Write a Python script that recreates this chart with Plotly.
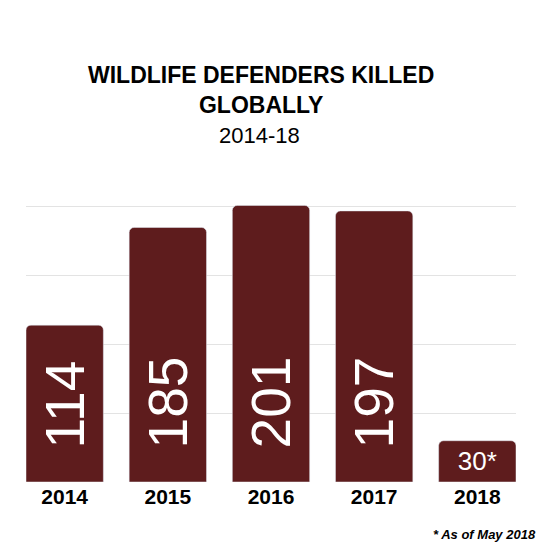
import plotly.graph_objects as go

years = ["2014", "2015", "2016", "2017", "2018"]
killed = [114, 185, 201, 197, 30]
labels = ["\u00a0\u00a0114", "\u00a0\u00a0185", "\u00a0\u00a0201", "\u00a0\u00a0197", "30*"]

bar_color = "#5e1c1d"

fig = go.Figure()
fig.add_trace(go.Bar(
    x=years[:4], y=killed[:4], text=labels[:4],
    textposition="inside", insidetextanchor="start", textangle=-90,
    textfont=dict(color="white", size=55, family="Liberation Sans"),
    marker=dict(color=bar_color),
))
fig.add_trace(go.Bar(
    x=years[4:], y=killed[4:], text=labels[4:],
    textposition="inside", insidetextanchor="middle", textangle=0,
    textfont=dict(color="white", size=26, family="Liberation Sans"),
    marker=dict(color=bar_color),
))

fig.update_layout(
    width=545, height=545,
    margin=dict(l=18, r=37, t=130, b=71, autoexpand=False),
    paper_bgcolor="white", plot_bgcolor="white",
    showlegend=False, barmode="overlay", bargap=0.25, barcornerradius=5,
    font=dict(family="Liberation Sans", color="black"),
    xaxis=dict(
        categoryorder="array", categoryarray=years, range=[-0.375, 4.375],
        tickfont=dict(size=21, family="Liberation Sans", weight="bold"),
        showline=False, ticks="", automargin=False,
    ),
    yaxis=dict(
        range=[0, 250], dtick=50, showticklabels=False, automargin=False,
        gridcolor="#e3e3e3", gridwidth=1, zeroline=False,
    ),
    annotations=[
        dict(text="<b>WILDLIFE DEFENDERS KILLED<br>GLOBALLY</b>", x=0.5, y=1.0,
             xref="paper", yref="paper", xanchor="center", yanchor="middle",
             yshift=48, xshift=-10, showarrow=False,
             font=dict(size=23, lineposition="none"), align="center"),
        dict(text="2014-18", x=0.5, y=1.0, xref="paper", yref="paper",
             xanchor="center", yanchor="bottom", yshift=-12, xshift=-12,
             showarrow=False, font=dict(size=22)),
        dict(text="<b><i>* As of May 2018</i></b>", x=1.0, y=0.0,
             xref="paper", yref="paper", xanchor="right", yanchor="bottom",
             yshift=-62, xshift=22, showarrow=False, font=dict(size=13)),
    ],
)

fig.write_html("out.html")
